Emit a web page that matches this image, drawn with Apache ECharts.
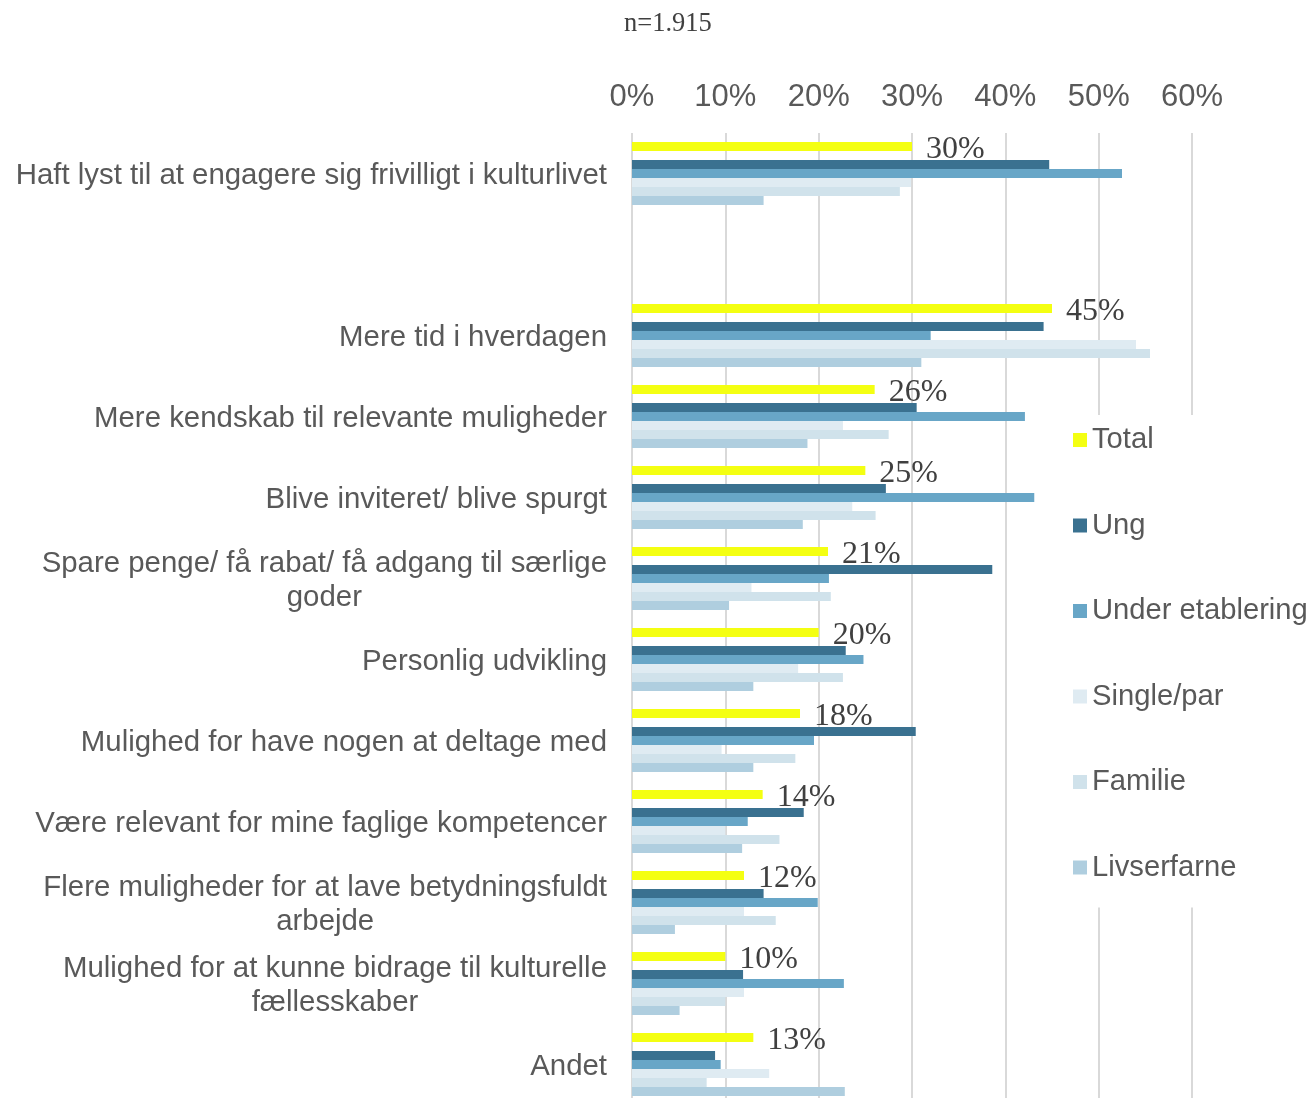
<!DOCTYPE html>
<html>
<head>
<meta charset="utf-8">
<script src="https://cdn.jsdelivr.net/npm/echarts@6/dist/echarts.min.js"></script>
<style>
  html, body { margin: 0; padding: 0; background: #fff; }
  #chart { width: 1312px; height: 1098px; }
</style>
</head>
<body>
<div id="chart"></div>
<script>
// Categories, top to bottom (the empty entry leaves a blank row)
const categories = [
  'Haft lyst til at engagere sig frivilligt i kulturlivet',
  '',
  'Mere tid i hverdagen',
  'Mere kendskab til relevante muligheder',
  'Blive inviteret/ blive spurgt',
  'Spare penge/ få rabat/ få adgang til særlige\ngoder',
  'Personlig udvikling',
  'Mulighed for have nogen at deltage med',
  'Være relevant for mine faglige kompetencer',
  'Flere muligheder for at lave betydningsfuldt\narbejde',
  'Mulighed for at kunne bidrage til kulturelle\nfællesskaber',
  'Andet'
];

// Shares in percent per segment
const total      = [30,   null, 45,   26,   25,   21,   20,   18,   14,   12,   10,   13];
const ung        = [44.7, null, 44.1, 30.5, 27.2, 38.6, 22.9, 30.4, 18.4, 14.1, 11.9, 8.9];
const underEtab  = [52.5, null, 32.0, 42.1, 43.1, 21.1, 24.8, 19.5, 12.4, 19.9, 22.7, 9.5];
const singlePar  = [29.9, null, 54.0, 22.6, 23.6, 12.8, 17.8, 9.6,  10.0, 12.0, 12.0, 14.7];
const familie    = [28.7, null, 55.5, 27.5, 26.1, 21.3, 22.6, 17.5, 15.8, 15.4, 10.0, 8.0];
const livserfarne= [14.1, null, 31.0, 18.8, 18.3, 10.4, 13.0, 13.0, 11.8, 4.6,  5.1,  22.8];

const seriesNames = ['Total', 'Ung', 'Under etablering', 'Single/par', 'Familie', 'Livserfarne'];
const xTicks = [0, 10, 20, 30, 40, 50, 60];
const noteText = 'n=1.915';

const colors = {
  'Total': '#F4FF12',
  'Ung': '#3A7190',
  'Under etablering': '#68A6C7',
  'Single/par': '#DFEBF2',
  'Familie': '#D0E2EB',
  'Livserfarne': '#AFCEDF'
};

const sans = '"Liberation Sans", Arial, sans-serif';
const serif = '"Liberation Serif", "Times New Roman", serif';

function bar(name, data, extra) {
  return Object.assign({
    name: name,
    type: 'bar',
    data: data,
    barWidth: 9,
    barGap: '0%',
    barCategoryGap: '22%',
    itemStyle: { color: colors[name] },
    emphasis: { disabled: true }
  }, extra || {});
}

const chart = echarts.init(document.getElementById('chart'), null, { renderer: 'canvas' });

chart.setOption({
  animation: false,
  backgroundColor: '#ffffff',
  title: {
    text: noteText,
    left: 619,
    top: 6,
    textStyle: { fontFamily: serif, fontSize: 26.5, fontWeight: 'normal', color: '#404040' }
  },
  // the last row runs slightly past the bottom edge, so the grid is not fitted to the canvas
  grid: { left: 632, top: 133, width: 560, height: 972, containLabel: false, outerBoundsMode: 'none' },
  legend: {
    data: seriesNames,
    orient: 'vertical',
    left: 1052,
    top: 415,
    padding: [10, 10, 25, 21],
    backgroundColor: '#ffffff',
    itemWidth: 14,
    itemHeight: 14,
    itemGap: 55.5,
    icon: 'rect',
    selectedMode: false,
    textStyle: { fontFamily: sans, fontSize: 29.2, color: '#595959', lineHeight: 30 }
  },
  xAxis: {
    type: 'value',
    position: 'top',
    min: xTicks[0],
    max: xTicks[xTicks.length - 1],
    interval: 10,
    axisLine: { show: false },
    axisTick: { show: false },
    axisLabel: {
      formatter: '{value}%',
      fontFamily: sans,
      fontSize: 31,
      color: '#595959',
      margin: 20
    },
    splitLine: { show: true, lineStyle: { color: '#D9D9D9', width: 2 } }
  },
  yAxis: {
    type: 'category',
    data: categories,
    inverse: true,
    axisLine: { show: false },
    axisTick: { show: false },
    axisLabel: {
      margin: 25,
      fontFamily: sans,
      fontSize: 29.4,
      color: '#595959',
      align: 'right',
      padding: [4, 0, 0, 0],
      interval: 0,
      formatter: function (value) {
        if (value.indexOf('\n') < 0) return value;
        return value.split('\n').map(function (l) { return '{c|' + l + '}'; }).join('\n');
      },
      rich: {
        c: { align: 'center', fontFamily: sans, fontSize: 29.4, color: '#595959', lineHeight: 34 }
      }
    }
  },
  series: [
    bar('Total', total, {
      label: {
        show: true,
        position: 'right',
        distance: 14,
        offset: [0, 3],
        fontFamily: serif,
        fontSize: 32,
        color: '#404040',
        formatter: function (p) { return p.value == null ? '' : Math.round(p.value) + '%'; }
      }
    }),
    { name: 'spacer', type: 'bar', data: total.map(function () { return null; }), barWidth: 9, barGap: '0%', barCategoryGap: '22%' },
    bar('Ung', ung),
    bar('Under etablering', underEtab),
    bar('Single/par', singlePar),
    bar('Familie', familie),
    bar('Livserfarne', livserfarne)
  ]
});
</script>
</body>
</html>
